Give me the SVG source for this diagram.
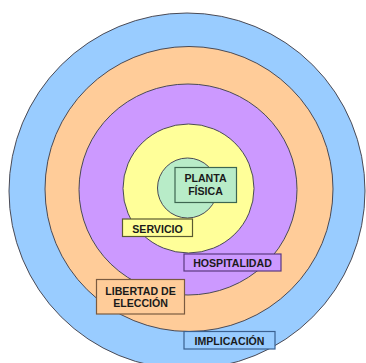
<svg xmlns="http://www.w3.org/2000/svg" width="366" height="363" viewBox="0 0 366 363">
<style>
.ring{stroke:#4a4a55;stroke-width:1}
.box{stroke-width:1.2}
.t{font-family:"Liberation Sans",Arial,sans-serif;font-weight:bold;font-size:10.6px;fill:#1a1a1a;text-anchor:middle;dominant-baseline:central}
</style>
<rect width="366" height="363" fill="#ffffff"/>
<g id="implicacion-ring"><ellipse class="ring" cx="187" cy="191" rx="178" ry="178" fill="#99ccff"/></g>
<g id="libertad-ring"><ellipse class="ring" cx="189" cy="189" rx="144" ry="142.5" fill="#ffcc99"/></g>
<g id="hospitalidad-ring"><ellipse class="ring" cx="188" cy="189.5" rx="109" ry="105.5" fill="#cc99ff"/></g>
<g id="servicio-ring"><ellipse class="ring" cx="188.5" cy="188.5" rx="65.5" ry="64.5" fill="#ffff99"/></g>
<g id="planta-ring"><circle class="ring" cx="187.5" cy="188" r="30" fill="#b8ecc8"/></g>
<g id="connectors"></g>
<g id="planta-fisica">
<rect class="box" x="175" y="167.5" width="61.5" height="35" fill="#b8ecc8" stroke="#3d6650"/>
<text class="t" x="205.5" y="178">PLANTA</text>
<text class="t" x="205.5" y="191">FÍSICA</text>
</g>
<g id="servicio">
<rect class="box" x="122.5" y="219" width="70" height="17.5" fill="#ffff99" stroke="#5a5a30"/>
<text class="t" x="157.5" y="228.5">SERVICIO</text>
</g>
<g id="hospitalidad">
<rect class="box" x="184" y="254" width="97" height="17" fill="#cc99ff" stroke="#5a3a80"/>
<text class="t" x="232.5" y="263">HOSPITALIDAD</text>
</g>
<g id="libertad">
<rect class="box" x="96.5" y="279.5" width="88" height="34.5" fill="#ffcc99" stroke="#7a5a40"/>
<text class="t" x="140.5" y="290.5">LIBERTAD DE</text>
<text class="t" x="140.5" y="303">ELECCIÓN</text>
</g>
<g id="implicacion">
<rect class="box" x="184" y="331.5" width="91" height="17.5" fill="#99ccff" stroke="#3a6090"/>
<text class="t" x="229.5" y="340.5">IMPLICACIÓN</text>
</g>
</svg>
